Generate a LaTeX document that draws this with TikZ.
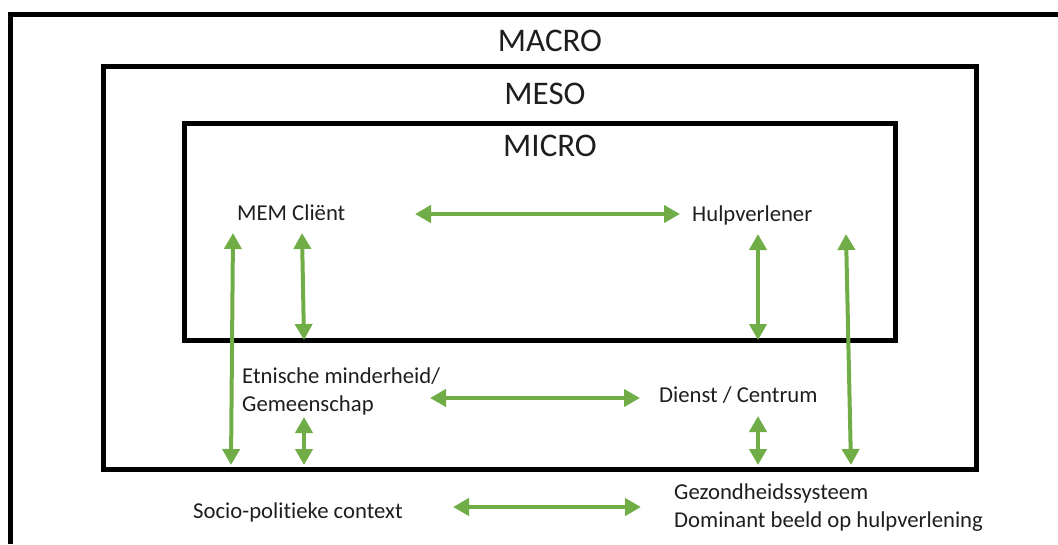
\documentclass[tikz,border=0pt]{standalone}
\usepackage{fontspec}
\setmainfont[Ligatures=NoCommon]{Carlito}
\usetikzlibrary{arrows.meta, positioning}

\definecolor{pijlgroen}{RGB}{112,173,71}
\definecolor{tekst}{RGB}{30,30,30}

\tikzset{
	niveau/.style={draw=black, line width=5pt},
	titel/.style={font=\fontsize{33}{38}\selectfont, text=tekst, inner sep=0pt},
	label/.style={font=\fontsize{22.7}{27.5}\selectfont, text=tekst, anchor=west, align=left, inner sep=0pt},
	pijl/.style={draw=pijlgroen, fill=pijlgroen, line width=4pt, {Triangle[length=16pt,width=17pt]}-{Triangle[length=16pt,width=17pt]}}
}

\begin{document}
\begin{tikzpicture}[x=1pt, y=1pt]
	\useasboundingbox (0,0) rectangle (1058,-544);

	% de drie niveaus
	\draw[niveau] (1058,-14.5) -| (10.5,-544);
	\draw[niveau] (103,-66) rectangle (976,-469);
	\draw[niveau] (184.5,-123.5) rectangle (895.5,-340.5);

	\node[titel] (macro) at (550,-41) {MACRO};
	\node[titel] (meso) at (545,-94) {MESO};
	\node[titel] (micro) at (550,-146) {MICRO};

	% micro
	\node[label] (client) at (237,-213) {MEM Cliënt};
		\node[label] (hulp) at (692,-215) {Hulpverlener};
	% meso
	\node[label] (etnisch) at (242,-391.5) {Etnische minderheid/\\Gemeenschap};
		\node[label] (dienst) at (659,-395) {Dienst / Centrum};
	% macro
	\node[label] (socio) at (193,-512) {Socio-politieke context};
		\node[label, font=\fontsize{22.7}{28}\selectfont] (gezond) at (674,-508) {Gezondheidssysteem\\Dominant beeld op hulpverlening};

	% pijlen
	\coordinate (c1) at (415,-214);   \coordinate (h1) at (680,-214);
	\coordinate (c2) at (233,-233);   \coordinate (s2) at (231,-465);
	\coordinate (c3) at (302,-233);   \coordinate (e3) at (304,-340);
	\coordinate (h4) at (758,-234);   \coordinate (d4) at (758,-340);
	\coordinate (h5) at (846,-234);   \coordinate (g5) at (851,-465);
	\coordinate (e6) at (430,-398);   \coordinate (d6) at (640,-398);
	\coordinate (e7) at (304,-417);   \coordinate (s7) at (304,-465);
	\coordinate (d8) at (758,-416);   \coordinate (g8) at (758,-465);
	\coordinate (s9) at (453,-507);   \coordinate (g9) at (641,-507);

	\draw[pijl] (c1) -- (h1);
	\draw[pijl] (c2) -- (s2);
	\draw[pijl] (c3) -- (e3);
	\draw[pijl] (h4) -- (d4);
	\draw[pijl] (h5) -- (g5);
	\draw[pijl] (e6) -- (d6);
	\draw[pijl] (e7) -- (s7);
	\draw[pijl] (d8) -- (g8);
	\draw[pijl] (s9) -- (g9);
\end{tikzpicture}
\end{document}
